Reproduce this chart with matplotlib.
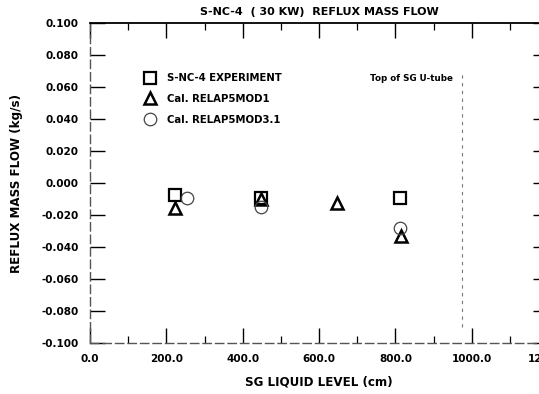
import matplotlib.pyplot as plt
from matplotlib.ticker import MultipleLocator, FuncFormatter

plt.rcParams['font.family'] = ['DejaVu Sans']

# S-NC-4 experiment vs. RELAP5 calculations
exp_level = [223.0, 448.0, 812.0]
exp_flow = [-0.0075, -0.0094, -0.0092]

mod1_level = [223.0, 448.0, 647.0, 815.0]
mod1_flow = [-0.0155, -0.0100, -0.0125, -0.0330]

mod31_level = [254.0, 448.0, 812.0]
mod31_flow = [-0.0095, -0.0150, -0.0280]

u_tube_top = 975.0

fig = plt.figure(figsize=(5.39, 3.94), dpi=100)
ax = fig.add_axes([0.167, 0.129, 0.850, 0.812])

ax.plot(exp_level, exp_flow, ls='none', marker='s', ms=9, mfc='none',
        mec='black', mew=1.6, label='S-NC-4 EXPERIMENT')
ax.plot(mod1_level, mod1_flow, ls='none', marker='^', ms=9, mfc='none',
        mec='black', mew=1.8, label='Cal. RELAP5MOD1')
ax.plot(mod31_level, mod31_flow, ls='none', marker='o', ms=9, mfc='none',
        mec='#444444', mew=0.9, label='Cal. RELAP5MOD3.1')

# top of the SG U-tube
ax.axvline(u_tube_top, ymin=0.05, ymax=0.84, color='#777777', lw=0.8, ls=(0, (3, 4)))
ax.text(u_tube_top - 25, 0.0655, 'Top of SG U-tube', ha='right', va='center',
        fontsize=6.3, fontweight='bold')

ax.set_xlim(0, 1200)
ax.set_ylim(-0.1, 0.1)
ax.xaxis.set_major_locator(MultipleLocator(200))
ax.xaxis.set_minor_locator(MultipleLocator(100))
ax.yaxis.set_major_locator(MultipleLocator(0.02))
ax.xaxis.set_major_formatter(FuncFormatter(lambda v, p: f'{v:.1f}'))
ax.yaxis.set_major_formatter(FuncFormatter(lambda v, p: f'{v + 0.0:.3f}'.replace('-0.000', '0.000')))

ax.tick_params(which='major', direction='in', length=11, width=1.0,
               top=True, right=True, labelsize=7.5)
ax.tick_params(which='minor', direction='in', length=5, width=0.9, top=True)
ax.tick_params(axis='x', pad=8)
ax.tick_params(axis='y', pad=8)
for lbl in ax.get_xticklabels() + ax.get_yticklabels():
    lbl.set_fontweight('bold')

ax.spines['top'].set_linewidth(1.3)
for side in ('left', 'bottom'):
    ax.spines[side].set_linewidth(1.0)
    ax.spines[side].set_color('#555555')
    ax.spines[side].set_linestyle((0, (6, 3)))

ax.set_title('S-NC-4  ( 30 KW)  REFLUX MASS FLOW', fontsize=8.0, fontweight='bold', pad=6)
ax.set_xlabel('SG LIQUID LEVEL (cm)', fontsize=8.6, fontweight='bold', labelpad=8)
ax.set_ylabel('REFLUX MASS FLOW (kg/s)', fontsize=8.6, fontweight='bold', labelpad=13)

ax.legend(loc='upper left', bbox_to_anchor=(0.109, 0.856), frameon=False,
          numpoints=1, handlelength=1.2, handletextpad=1.1, labelspacing=1.05,
          borderaxespad=0, prop={'size': 7.3, 'weight': 'bold'})

fig.savefig('out.png', dpi=100)
